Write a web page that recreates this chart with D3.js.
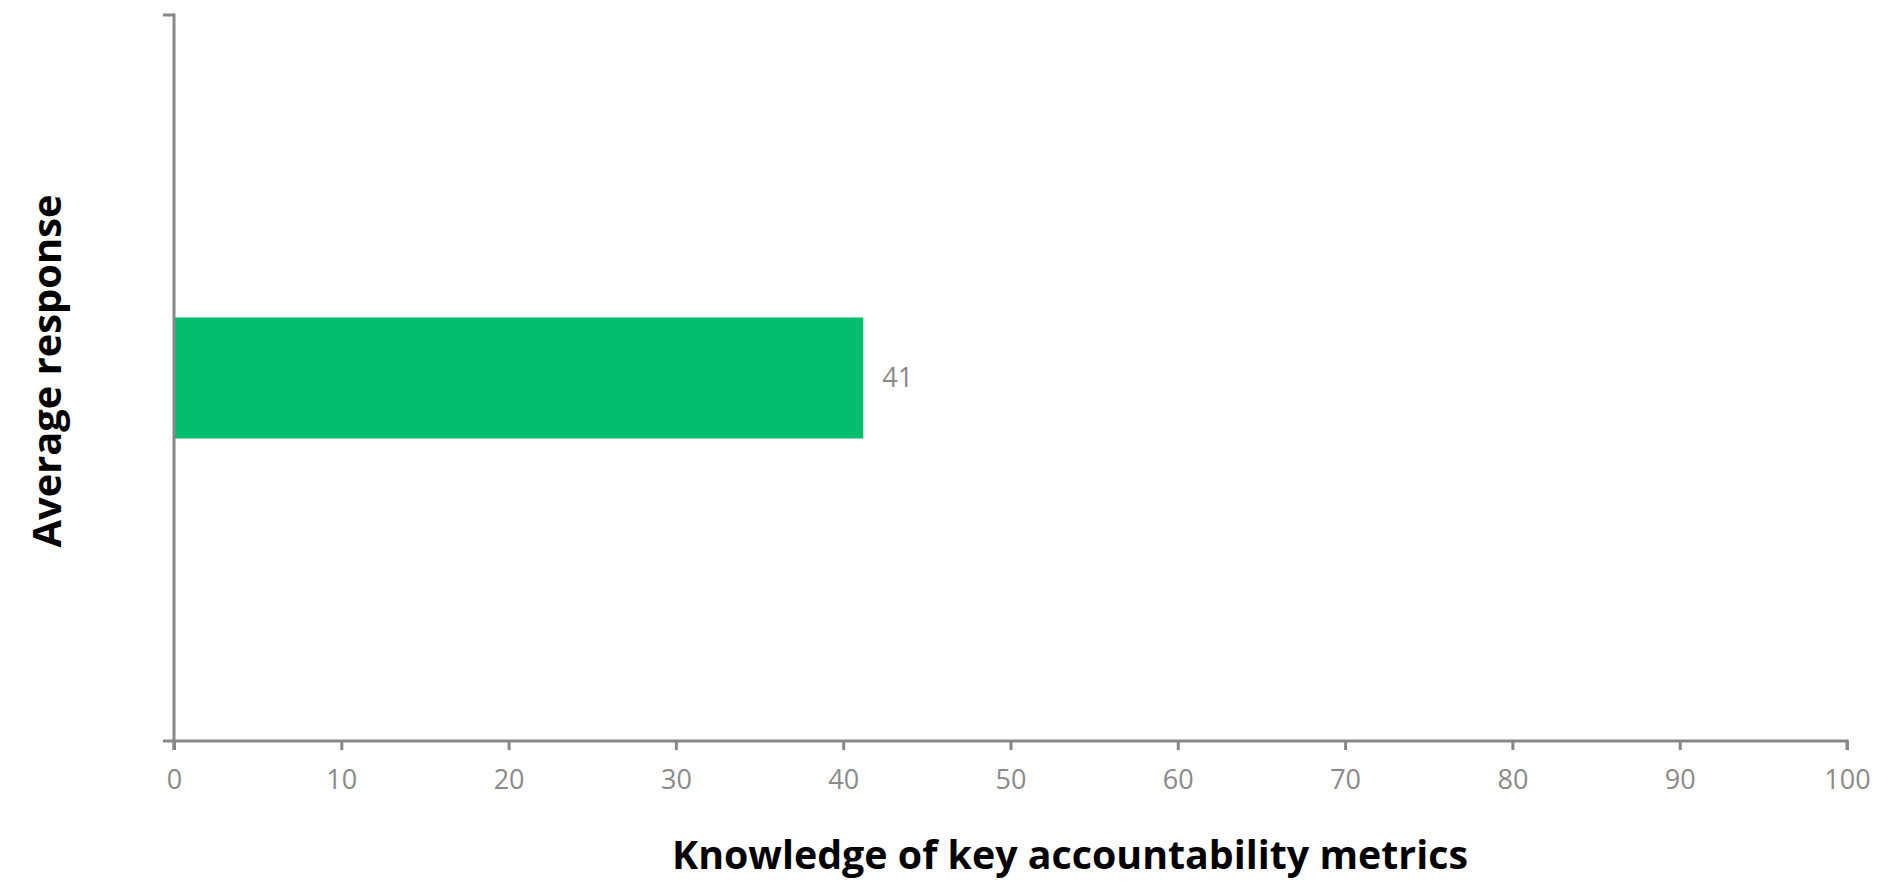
<!DOCTYPE html>
<html><head><meta charset="utf-8">
<script src="https://cdn.jsdelivr.net/npm/d3@7"></script>
<style>html,body{margin:0;padding:0;background:#fff;}</style>
</head><body>
<svg id="chart" width="1898" height="881"></svg>
<script>
const categories = ["Average response"];
const values = [41.2];
const valueLabels = ["41"];
const xTicks = [0,10,20,30,40,50,60,70,80,90,100];
const xTitle = "Knowledge of key accountability metrics";
const yTitle = "Average response";

const svg = d3.select("#chart");
const mLeft = 174, mRight = 1847, mTop = 15, mBottom = 741;
const axisColor = "#878787", labelColor = "#8a8a8a";
const font = "'Open Sans', 'Liberation Sans', sans-serif";

const x = d3.scaleLinear().domain([0,100]).range([mLeft,mRight]);
const y = d3.scaleBand().domain(categories).range([mTop,mBottom]).paddingInner(5/7).paddingOuter(5/7);

// bars
svg.selectAll("rect.bar").data(values).join("rect")
  .attr("class","bar")
  .attr("x", x(0))
  .attr("y", (d,i)=>y(categories[i]))
  .attr("width", d=>x(d)-x(0))
  .attr("height", y.bandwidth())
  .attr("fill","#02bf6f");

// value labels
svg.selectAll("text.val").data(values).join("text")
  .attr("class","val")
  .attr("x", d=>x(d)+19)
  .attr("y", (d,i)=>y(categories[i])+y.bandwidth()/2)
  .attr("dy","0.35em")
  .attr("font-family",font).attr("font-size",27)
  .attr("fill",labelColor)
  .text((d,i)=>valueLabels[i]);

// x axis
const xAxis = d3.axisBottom(x).tickValues(xTicks).tickSize(9).tickSizeOuter(9).tickPadding(20).tickFormat(d3.format("d"));
const gx = svg.append("g").attr("transform",`translate(0,${mBottom})`).call(xAxis);
gx.select(".domain").attr("stroke",axisColor).attr("stroke-width",3).attr("d",`M${mLeft},9V0H${mRight}V9`);
gx.selectAll(".tick line").attr("stroke",axisColor).attr("stroke-width",3);
gx.selectAll(".tick text").attr("font-family",font).attr("font-size",27).attr("fill",labelColor);

// y axis (category boundaries as ticks)
const yAxisLine = svg.append("g");
yAxisLine.append("line").attr("x1",mLeft).attr("x2",mLeft).attr("y1",mTop-1.5).attr("y2",mBottom+9)
  .attr("stroke",axisColor).attr("stroke-width",3);
const yBounds = [mTop, mBottom];
yAxisLine.selectAll("line.yt").data(yBounds).join("line").attr("class","yt")
  .attr("x1",mLeft-11).attr("x2",mLeft).attr("y1",d=>d).attr("y2",d=>d)
  .attr("stroke",axisColor).attr("stroke-width",3);

// titles
const xt = svg.append("text")
  .attr("x",1070).attr("y",869)
  .attr("text-anchor","middle")
  .attr("font-family",font).attr("font-weight","bold").attr("font-size",34)
  .attr("fill","#000").text(xTitle);
let w = xt.node().getComputedTextLength();
xt.attr("font-size", 34*796/w);

const yt = svg.append("text")
  .attr("transform","translate(47,371) rotate(-90)")
  .attr("text-anchor","middle")
  .attr("dy","0.35em")
  .attr("font-family",font).attr("font-weight","bold").attr("font-size",34)
  .attr("fill","#000").text(yTitle);
w = yt.node().getComputedTextLength();
yt.attr("font-size", 34*353/w);
</script>
</body></html>
